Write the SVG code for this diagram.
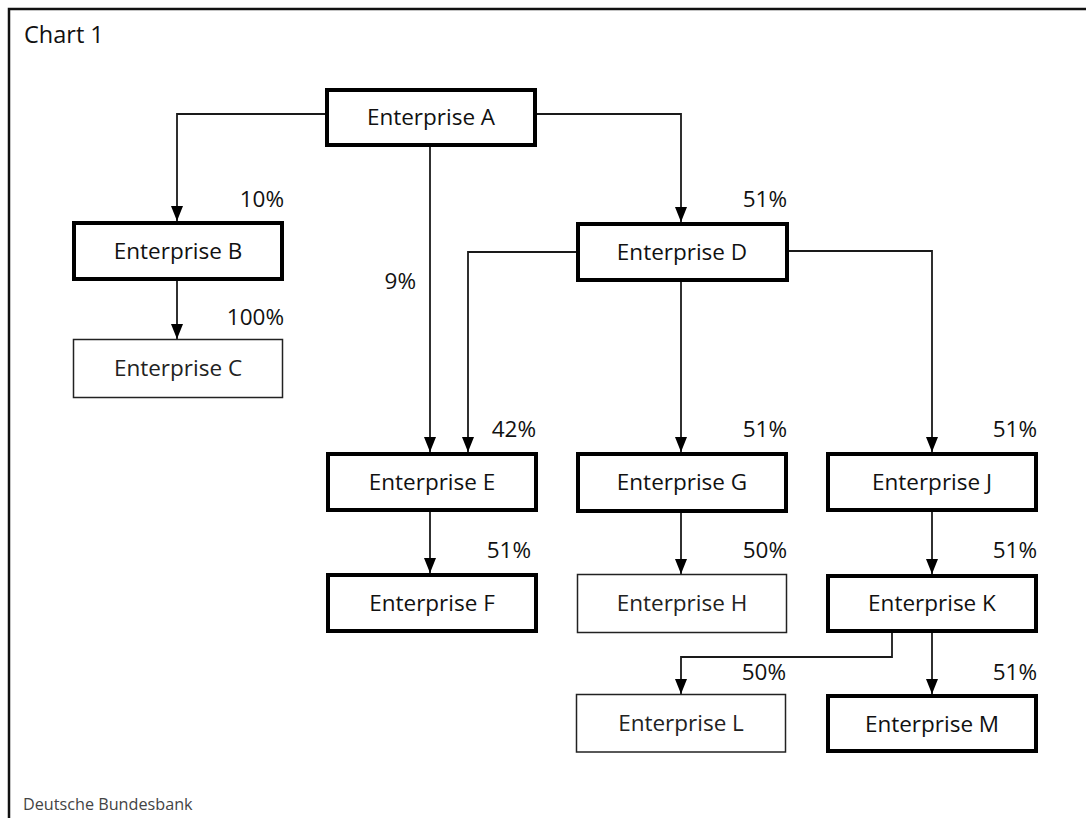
<svg xmlns="http://www.w3.org/2000/svg" width="1086" height="818" viewBox="0 0 1086 818">
<style>
  .bg{fill:#fff}
  .frame{stroke:#111;stroke-width:2.5;fill:none}
  .thick{fill:#fff;stroke:#000;stroke-width:4}
  .thin{fill:#fff;stroke:#222;stroke-width:1.5}
  .lbl{font-family:"Open Sans","Noto Sans",sans-serif;font-size:22.5px;fill:#111;text-anchor:middle}
  .lbl2{font-family:"Open Sans","Noto Sans",sans-serif;font-size:22.5px;fill:#222;text-anchor:middle}
  .pct{font-family:"Open Sans","Noto Sans",sans-serif;font-size:22.5px;fill:#111;text-anchor:end}
  .conn{fill:none;stroke:#1a1a1a;stroke-width:1.8;marker-end:url(#arr)}
  .title{font-family:"Open Sans","Noto Sans",sans-serif;font-size:23.5px;fill:#111}
  .src{font-family:"Open Sans","Noto Sans",sans-serif;font-size:16.2px;fill:#444}
</style>
<defs>
  <marker id="arr" viewBox="0 0 15 12" refX="15" refY="6" markerWidth="15" markerHeight="12" markerUnits="userSpaceOnUse" orient="auto">
    <path d="M0,0 L15,6 L0,12 z" fill="#000"/>
  </marker>
</defs>
<rect class="bg" x="0" y="0" width="1086" height="818"/>
<path class="frame" d="M9,818 V9 H1086"/>
<text class="title" x="24" y="43">Chart 1</text>
<text class="src" x="23" y="810">Deutsche Bundesbank</text>

<g id="connectors">
  <path class="conn" d="M325,114 H177 V221"/>
  <path class="conn" d="M430,147 V452"/>
  <path class="conn" d="M536,114 H681 V222"/>
  <path class="conn" d="M576,252 H468 V452"/>
  <path class="conn" d="M681,282 V452"/>
  <path class="conn" d="M789,251 H932 V452"/>
  <path class="conn" d="M177,281 V339"/>
  <path class="conn" d="M430,512 V573"/>
  <path class="conn" d="M681,513 V574"/>
  <path class="conn" d="M932,512 V574"/>
  <path class="conn" d="M892,633 V657 H681 V694"/>
  <path class="conn" d="M932,633 V694"/>
</g>

<g id="labels">
  <text class="pct" x="284" y="207">10%</text>
  <text class="pct" x="284" y="325">100%</text>
  <text class="pct" x="787" y="207">51%</text>
  <text class="pct" x="416" y="289">9%</text>
  <text class="pct" x="536" y="437">42%</text>
  <text class="pct" x="531" y="558">51%</text>
  <text class="pct" x="787" y="437">51%</text>
  <text class="pct" x="787" y="558">50%</text>
  <text class="pct" x="1037" y="437">51%</text>
  <text class="pct" x="1037" y="558">51%</text>
  <text class="pct" x="786" y="680">50%</text>
  <text class="pct" x="1037" y="680">51%</text>
</g>

<g id="nodeA"><rect class="thick" x="327" y="90" width="208" height="55"/><text class="lbl" x="431" y="125">Enterprise A</text></g>
<g id="nodeB"><rect class="thick" x="74" y="223" width="208" height="56"/><text class="lbl" x="178" y="259">Enterprise B</text></g>
<g id="nodeC"><rect class="thin" x="73.5" y="339.5" width="209" height="58"/><text class="lbl2" x="178" y="376">Enterprise C</text></g>
<g id="nodeD"><rect class="thick" x="578" y="224" width="209" height="56"/><text class="lbl" x="682" y="260">Enterprise D</text></g>
<g id="nodeE"><rect class="thick" x="328" y="454" width="208" height="56"/><text class="lbl" x="432" y="490">Enterprise E</text></g>
<g id="nodeF"><rect class="thick" x="328" y="575" width="208" height="56"/><text class="lbl" x="432" y="611">Enterprise F</text></g>
<g id="nodeG"><rect class="thick" x="578" y="454" width="208" height="57"/><text class="lbl" x="682" y="490">Enterprise G</text></g>
<g id="nodeH"><rect class="thin" x="577.5" y="574.5" width="209" height="58"/><text class="lbl2" x="682" y="611">Enterprise H</text></g>
<g id="nodeJ"><rect class="thick" x="828" y="454" width="208" height="56"/><text class="lbl" x="932" y="490">Enterprise J</text></g>
<g id="nodeK"><rect class="thick" x="828" y="576" width="208" height="55"/><text class="lbl" x="932" y="611">Enterprise K</text></g>
<g id="nodeL"><rect class="thin" x="576.5" y="694.5" width="209" height="57.5"/><text class="lbl2" x="681" y="731">Enterprise L</text></g>
<g id="nodeM"><rect class="thick" x="828" y="696" width="208" height="55"/><text class="lbl" x="932" y="732">Enterprise M</text></g>
</svg>
